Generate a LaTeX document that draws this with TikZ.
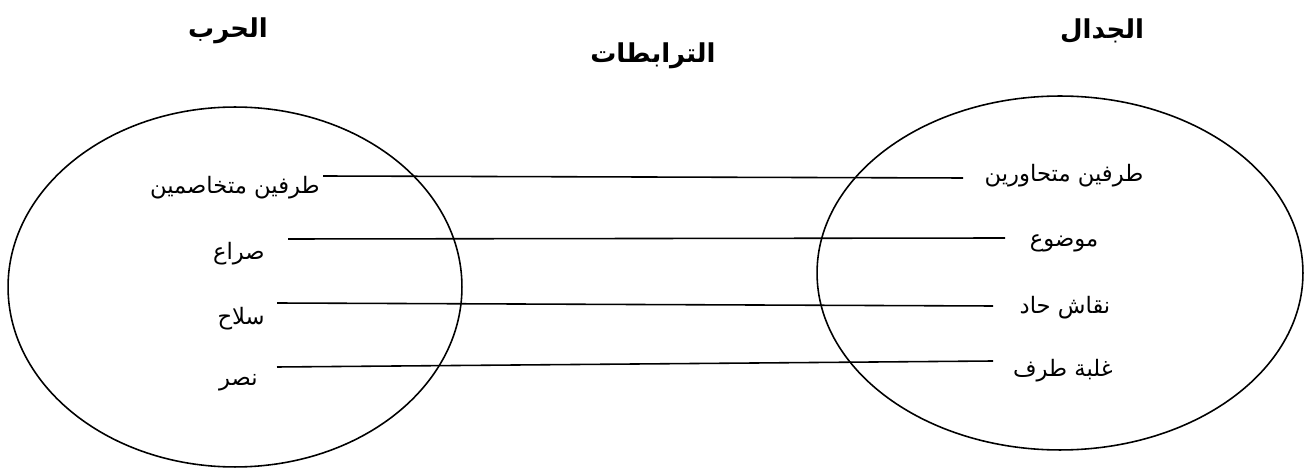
\documentclass[tikz,border=0pt]{standalone}
\usepackage{fontspec}
\newfontfamily\arabicfont[Script=Arabic]{DejaVu Sans}
\TeXXeTstate=1
\usepackage{tikz}
\usetikzlibrary{shapes.geometric, positioning}
\tikzstyle{title2} = [inner sep=0pt, font=\arabicfont\bfseries\fontsize{14.8}{17}\selectfont]
\tikzstyle{word2} = [inner sep=0pt, font=\arabicfont\fontsize{12.9}{15}\selectfont]
\tikzstyle{set2} = [ellipse, draw=black, line width=0.9pt, inner sep=0pt]
\tikzstyle{link2} = [line width=0.9pt]

\begin{document}
\begin{tikzpicture}[x=0.02cm, y=-0.02cm]
            \useasboundingbox (0,0) rectangle (1311,472);
            % Sets
            \node (war) [set2, minimum width=9.08cm, minimum height=7.2cm] at (235,287) {};
            \node (debate) [set2, minimum width=9.72cm, minimum height=7.08cm] at (1060,273) {};

            % Titles
            \node (wartitle) [title2] at (228,31) {\beginR الحرب\endR};
            \node (debatetitle) [title2] at (1102,31) {\beginR الجدال\endR};
            \node (linkstitle) [title2] at (653,56) {\beginR الترابطات\endR};

            % Words of the war
            \node (w1) [word2, anchor=east] at (320,188) {\beginR طرفين متخاصمين\endR};
            \node (w2) [word2, anchor=east] at (265,254) {\beginR صراع\endR};
            \node (w3) [word2, anchor=east] at (265,319) {\beginR سلاح\endR};
            \node (w4) [word2, anchor=east] at (258,383) {\beginR نصر\endR};

            % Words of the debate
            \node (d1) [word2] at (1064,176) {\beginR طرفين متحاورين\endR};
            \node (d2) [word2] at (1064,243) {\beginR موضوع\endR};
            \node (d3) [word2] at (1065,308) {\beginR نقاش حاد\endR};
            \node (d4) [word2] at (1063,371) {\beginR غلبة طرف\endR};

            % Line ends
            \coordinate (w1end) at (323,176);
            \coordinate (w2end) at (288,239);
            \coordinate (w3end) at (277,303);
            \coordinate (w4end) at (277,367);
            \coordinate (d1end) at (963,178);
            \coordinate (d2end) at (1005,238);
            \coordinate (d3end) at (993,306);
            \coordinate (d4end) at (993,361);

            % Edges
            \draw [link2] (w1end) -- (d1end);
            \draw [link2] (w2end) -- (d2end);
            \draw [link2] (w3end) -- (d3end);
            \draw [link2] (w4end) -- (d4end);

        \end{tikzpicture}
\end{document}
